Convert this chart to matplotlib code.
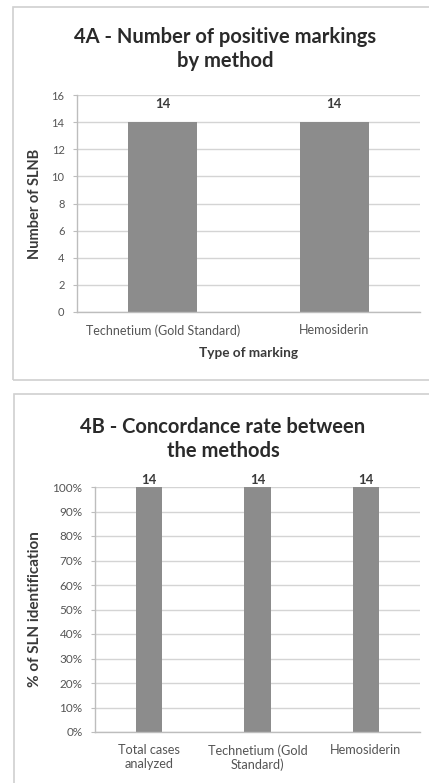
import matplotlib
matplotlib.use("Agg")
import matplotlib.pyplot as plt
from matplotlib.patches import Rectangle
from matplotlib.ticker import PercentFormatter

plt.rcParams['font.family'] = ['Lato', 'DejaVu Sans']

# Panel 4A data
methods_a = ["Technetium (Gold Standard)", "Hemosiderin"]
counts_a = [14, 14]
yticks_a = [0, 2, 4, 6, 8, 10, 12, 14, 16]

# Panel 4B data
methods_b = ["Total cases\nanalyzed", "Technetium (Gold\nStandard)", "Hemosiderin"]
percent_b = [100, 100, 100]
counts_b = [14, 14, 14]
yticks_b = [0, 10, 20, 30, 40, 50, 60, 70, 80, 90, 100]

W, H = 429, 783
fig = plt.figure(figsize=(W / 100, H / 100), dpi=100)
fig.patch.set_facecolor("white")

BAR = "#8c8c8c"
GRID = "#d4d4d4"
TXT = "#3a3a3a"


def px_axes(x0, y0, x1, y1):
    return fig.add_axes([x0 / W, 1 - y1 / H, (x1 - x0) / W, (y1 - y0) / H])


# Panel frames
for (x0, y0, x1, y1) in [(13, 7, 440, 380), (14, 394, 440, 800)]:
    fig.add_artist(Rectangle((x0 / W, 1 - y1 / H), (x1 - x0) / W, (y1 - y0) / H,
                             transform=fig.transFigure, fill=False,
                             edgecolor="#d0d0d0", linewidth=1.2))


def style(ax):
    for s in ["top", "right"]:
        ax.spines[s].set_visible(False)
    for s in ["left", "bottom"]:
        ax.spines[s].set_color("#bdbdbd")
        ax.spines[s].set_linewidth(1.0)
    ax.yaxis.grid(True, color=GRID, linewidth=1.0)
    ax.set_axisbelow(True)
    ax.tick_params(axis="both", colors="#bdbdbd", labelcolor="#555555", length=3)
    ax.tick_params(axis="x", length=0)


# ---- 4A ----
ax1 = px_axes(77, 95, 420, 312)
x1 = range(len(methods_a))
bars1 = ax1.bar(x1, counts_a, width=0.4, color=BAR)
ax1.set_xlim(-0.5, len(methods_a) - 0.5)
ax1.set_ylim(0, 16)
ax1.set_yticks(yticks_a)
ax1.set_xticks(list(x1))
ax1.set_xticklabels(methods_a, fontsize=9)
ax1.tick_params(axis="y", labelsize=8, pad=6)
ax1.tick_params(axis="x", pad=9)
style(ax1)
for b, v in zip(bars1, counts_a):
    ax1.text(b.get_x() + b.get_width() / 2, v + 0.9, str(v), ha="center", va="bottom",
             fontsize=9.5, fontweight="bold", color=TXT)
ax1.set_xlabel("Type of marking", fontsize=9.8, fontweight="bold", color=TXT, labelpad=7)
ax1.set_ylabel("Number of SLNB", fontsize=10.5, fontweight="bold", color=TXT, labelpad=6)
ax1.yaxis.set_label_coords(-(77 - 42) / 343, 0.5)
fig.text(225 / W, 1 - 49 / H, "4A - Number of positive markings\nby method", ha="center",
         va="center", fontsize=14.5, fontweight="bold", color="#2a2a2a", linespacing=1.2)

# ---- 4B ----
ax2 = px_axes(95, 487, 420, 732)
x2 = range(len(methods_b))
bars2 = ax2.bar(x2, percent_b, width=0.24, color=BAR)
ax2.set_xlim(-0.5, len(methods_b) - 0.5)
ax2.set_ylim(0, 100)
ax2.set_yticks(yticks_b)
ax2.yaxis.set_major_formatter(PercentFormatter(decimals=0))
ax2.set_xticks(list(x2))
ax2.set_xticklabels(methods_b, fontsize=9.2, linespacing=1.15)
ax2.tick_params(axis="y", labelsize=8.5, pad=6)
ax2.tick_params(axis="x", pad=9)
style(ax2)
for b, v in zip(bars2, counts_b):
    ax2.text(b.get_x() + b.get_width() / 2, 100.3, str(v), ha="center", va="bottom",
             fontsize=9.5, fontweight="bold", color=TXT)
ax2.set_ylabel("% of SLN identification", fontsize=11, fontweight="bold", color=TXT)
ax2.yaxis.set_label_coords(-(95 - 42) / 325, 0.5)
fig.text(223 / W, 1 - 439 / H, "4B - Concordance rate between\nthe methods", ha="center",
         va="center", fontsize=14.5, fontweight="bold", color="#2a2a2a", linespacing=1.2)

fig.savefig("out.png", dpi=100)
